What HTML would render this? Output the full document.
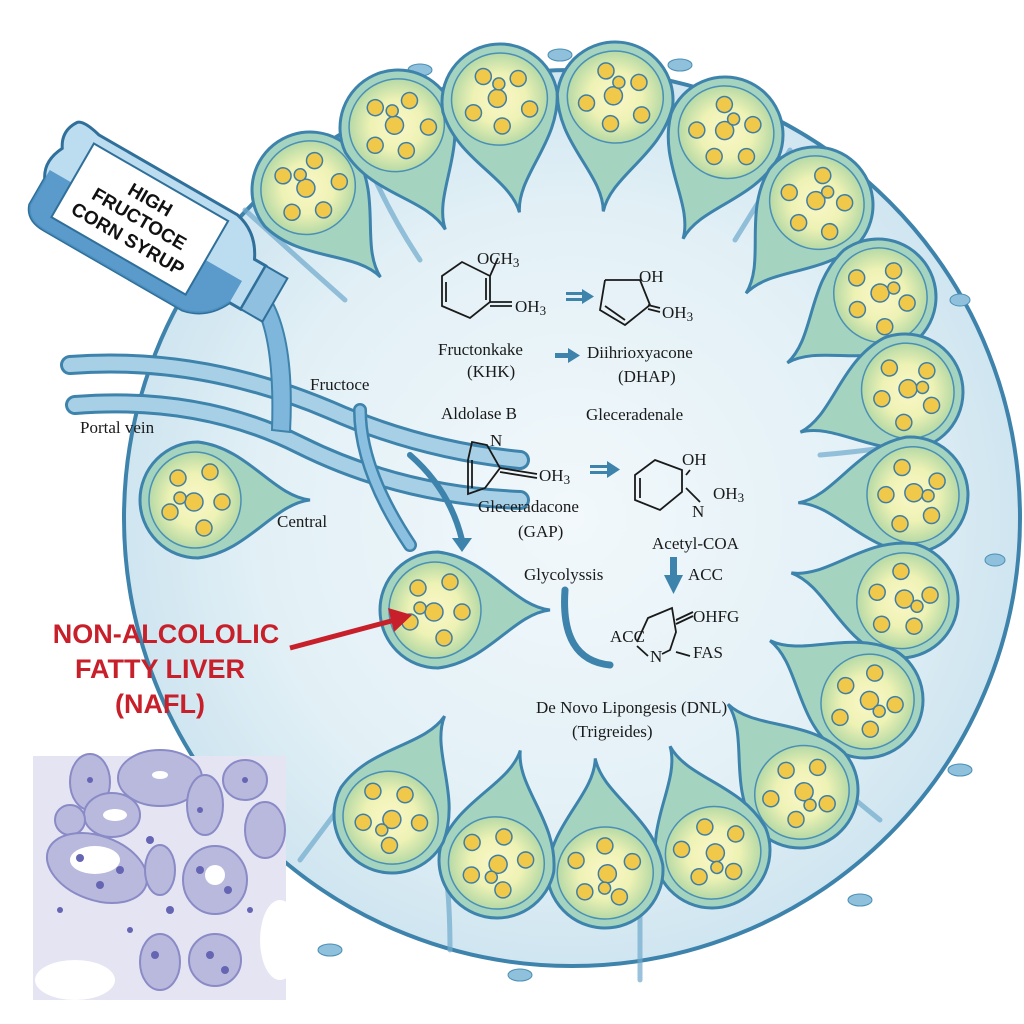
<!DOCTYPE html>
<html><head><meta charset="utf-8"><style>
html,body{margin:0;padding:0;background:#fff;width:1024px;height:1024px;overflow:hidden}
svg{display:block}
.s{font-family:"Liberation Serif",serif;fill:#1a1a1a}
</style></head><body>
<svg width="1024" height="1024" viewBox="0 0 1024 1024" xmlns="http://www.w3.org/2000/svg">
<defs>
<radialGradient id="bg" cx="0.5" cy="0.5" r="0.5">
<stop offset="0" stop-color="#f2f8fb"/><stop offset="0.7" stop-color="#e2f0f6"/><stop offset="1" stop-color="#cfe5f0"/>
</radialGradient>
<radialGradient id="cy" cx="0.5" cy="0.5" r="0.5">
<stop offset="0" stop-color="#fbf7c8"/><stop offset="0.55" stop-color="#eef2b4"/><stop offset="1" stop-color="#b6d9a6"/>
</radialGradient>
<g id="cell">
<path d="M112,0 C75,4 50,52 0,58 A58,58 0 1 1 0,-58 C50,-52 75,-4 112,0 Z" fill="#a4d4c0" stroke="#3d83ab" stroke-width="3"/>
<ellipse cx="-3" cy="0" rx="46" ry="48" fill="url(#cy)" stroke="#4a8fb5" stroke-width="1.5"/>
<g fill="#f1c94a" stroke="#3f7fa6" stroke-width="1.5">
<circle cx="-20" cy="-22" r="8"/><circle cx="12" cy="-28" r="8"/><circle cx="24" cy="2" r="8"/>
<circle cx="-4" cy="2" r="9"/><circle cx="-28" cy="12" r="8"/><circle cx="6" cy="28" r="8"/><circle cx="-18" cy="-2" r="6"/>
</g>
</g>
</defs>
<rect width="1024" height="1024" fill="#fff"/>
<circle cx="572" cy="518" r="448" fill="url(#bg)" stroke="#3d83ab" stroke-width="4"/>
<g fill="#8fc0dc" stroke="#4a8fb5" stroke-width="1">
<ellipse cx="420" cy="70" rx="12" ry="6"/><ellipse cx="560" cy="55" rx="12" ry="6"/><ellipse cx="680" cy="65" rx="12" ry="6"/>
<ellipse cx="960" cy="300" rx="10" ry="6"/><ellipse cx="995" cy="560" rx="10" ry="6"/><ellipse cx="960" cy="770" rx="12" ry="6"/>
<ellipse cx="860" cy="900" rx="12" ry="6"/><ellipse cx="520" cy="975" rx="12" ry="6"/><ellipse cx="330" cy="950" rx="12" ry="6"/>
</g>
<g stroke="#6fa9cc" stroke-width="5" fill="none" stroke-linecap="round" opacity="0.7">
<path d="M245,210 Q300,260 345,300"/><path d="M355,130 Q380,200 420,260"/><path d="M930,440 Q880,450 820,455"/>
<path d="M940,640 Q880,650 830,650"/><path d="M880,820 Q830,780 790,740"/><path d="M640,980 Q640,900 640,850"/>
<path d="M450,950 Q450,880 440,840"/><path d="M300,860 Q330,820 360,780"/><path d="M790,150 Q760,200 735,240"/>
</g>
<use href="#cell" transform="translate(310,190) rotate(51)"/>
<use href="#cell" transform="translate(398,128) rotate(65)"/>
<use href="#cell" transform="translate(500,102) rotate(80)"/>
<use href="#cell" transform="translate(615,100) rotate(96)"/>
<use href="#cell" transform="translate(725,135) rotate(112)"/>
<use href="#cell" transform="translate(815,205) rotate(128)"/>
<use href="#cell" transform="translate(878,297) rotate(144)"/>
<use href="#cell" transform="translate(905,392) rotate(159)"/>
<use href="#cell" transform="translate(910,495) rotate(176)"/>
<use href="#cell" transform="translate(900,600) rotate(194)"/>
<use href="#cell" transform="translate(865,700) rotate(212)"/>
<use href="#cell" transform="translate(800,790) rotate(230)"/>
<use href="#cell" transform="translate(712,850) rotate(248)"/>
<use href="#cell" transform="translate(605,870) rotate(265)"/>
<use href="#cell" transform="translate(497,860) rotate(282)"/>
<use href="#cell" transform="translate(392,815) rotate(298)"/>
<use href="#cell" transform="translate(198,500) rotate(0)"/>
<use href="#cell" transform="translate(438,610) rotate(0)"/>
<g fill="none" stroke-linecap="round">
<path d="M70,365 Q200,355 330,410 Q420,450 520,460" stroke="#3d83ab" stroke-width="20"/>
<path d="M70,365 Q200,355 330,410 Q420,450 520,460" stroke="#a7d0e6" stroke-width="14"/>
<path d="M75,405 Q200,395 300,445 Q400,495 520,500" stroke="#3d83ab" stroke-width="20"/>
<path d="M75,405 Q200,395 300,445 Q400,495 520,500" stroke="#a7d0e6" stroke-width="14"/>
<path d="M360,410 Q360,470 410,545" stroke="#3d83ab" stroke-width="14"/>
<path d="M360,410 Q360,470 410,545" stroke="#8cc0e0" stroke-width="9"/>
<path d="M410,455 Q450,490 462,540" stroke="#3d83ab" stroke-width="6"/>
<path d="M565,590 Q560,660 610,665" stroke="#3d83ab" stroke-width="7"/>
</g>
<polygon points="452,538 472,538 462,552" fill="#3d83ab"/>
<path d="M255,305 Q275,340 272,430 L290,432 Q295,340 270,298 Z" fill="#7fb6dc" stroke="#3d83ab" stroke-width="2"/>
<g transform="translate(145,225) rotate(30)">
<path d="M-110,-55 Q-120,-40 -110,-25 Q-120,-5 -110,10 L-110,40 Q-105,55 -85,55 L75,55 Q100,50 112,25 L125,25 L125,-25 L112,-25 Q100,-50 75,-55 L-85,-55 Q-105,-60 -110,-55 Z" fill="#bcdcf0" stroke="#2f6f99" stroke-width="3"/>
<path d="M-110,10 L-110,40 Q-105,55 -85,55 L75,55 Q100,50 112,25 L112,0 L-110,0 Z" fill="#4f93c6" opacity="0.9"/>
<rect x="125" y="-25" width="25" height="50" fill="#8fc0e0" stroke="#2f6f99" stroke-width="2"/>
<rect x="-85" y="-45" width="155" height="85" fill="#fff" stroke="#2f6f99" stroke-width="2"/>
<text x="-8" y="-18" text-anchor="middle" font-family="Liberation Sans,sans-serif" font-weight="bold" font-size="19" fill="#111">HIGH</text>
<text x="-8" y="4" text-anchor="middle" font-family="Liberation Sans,sans-serif" font-weight="bold" font-size="19" fill="#111">FRUCTOCE</text>
<text x="-8" y="27" text-anchor="middle" font-family="Liberation Sans,sans-serif" font-weight="bold" font-size="19" fill="#111">CORN SYRUP</text>
</g>
<g fill="none" stroke="#1a1a1a" stroke-width="1.8">
<polygon points="462,262 490,276 490,302 470,318 442,306 442,276"/>
<line x1="486" y1="278" x2="486" y2="300"/><line x1="446" y1="282" x2="446" y2="302"/>
<line x1="490" y1="276" x2="498" y2="258"/><line x1="490" y1="302" x2="512" y2="302"/><line x1="490" y1="306" x2="512" y2="306"/>
<polyline points="605,280 640,280 650,305 625,325 600,310 605,280"/><line x1="605" y1="306" x2="625" y2="320"/>
<line x1="648" y1="305" x2="660" y2="308"/><line x1="648" y1="309" x2="660" y2="312"/>
<polygon points="472,442 487,445 500,468 485,488 468,494 468,460"/><line x1="472" y1="460" x2="472" y2="488"/>
<line x1="500" y1="468" x2="537" y2="474"/><line x1="500" y1="472" x2="537" y2="478"/>
<polygon points="655,460 682,470 682,492 660,510 635,500 635,475"/><line x1="640" y1="478" x2="640" y2="498"/>
<line x1="686" y1="488" x2="700" y2="502"/><line x1="686" y1="475" x2="690" y2="470"/>
<polyline points="637,642 648,618 672,608 676,632 670,650 662,654"/>
<line x1="676" y1="620" x2="693" y2="612"/><line x1="676" y1="624" x2="693" y2="616"/>
<line x1="676" y1="652" x2="690" y2="656"/><line x1="637" y1="646" x2="648" y2="656"/>
</g>
<g fill="#3d83ab">
<rect x="566" y="292" width="16" height="3"/><rect x="566" y="298" width="16" height="3"/><polygon points="582,289 594,296.5 582,304"/>
<rect x="555" y="353" width="14" height="5"/><polygon points="568,348 580,355.5 568,363"/>
<rect x="590" y="465" width="18" height="3"/><rect x="590" y="471" width="18" height="3"/><polygon points="607,461 620,469.5 607,478"/>
<rect x="670" y="557" width="7" height="20"/><polygon points="664,575 683,575 673.5,594"/>
</g>
<g class="s" font-size="17">
<text x="477" y="264">OCH<tspan font-size="13" dy="3">3</tspan></text>
<text x="515" y="312">OH<tspan font-size="13" dy="3">3</tspan></text>
<text x="639" y="282">OH</text>
<text x="662" y="318">OH<tspan font-size="13" dy="3">3</tspan></text>
<text x="438" y="355">Fructonkake</text>
<text x="467" y="377">(KHK)</text>
<text x="587" y="358">Diihrioxyacone</text>
<text x="618" y="382">(DHAP)</text>
<text x="441" y="419">Aldolase B</text>
<text x="586" y="420">Gleceradenale</text>
<text x="490" y="446">N</text>
<text x="539" y="481">OH<tspan font-size="13" dy="3">3</tspan></text>
<text x="682" y="465">OH</text>
<text x="713" y="499">OH<tspan font-size="13" dy="3">3</tspan></text>
<text x="692" y="517">N</text>
<text x="478" y="512">Gleceradacone</text>
<text x="518" y="537">(GAP)</text>
<text x="652" y="549">Acetyl-COA</text>
<text x="688" y="580">ACC</text>
<text x="524" y="580">Glycolyssis</text>
<text x="693" y="622">OHFG</text>
<text x="610" y="642">ACC</text>
<text x="650" y="662">N</text>
<text x="693" y="658">FAS</text>
<text x="536" y="713">De Novo Lipongesis (DNL)</text>
<text x="572" y="737">(Trigreides)</text>
<text x="310" y="390">Fructoce</text>
<text x="80" y="433">Portal vein</text>
<text x="277" y="527">Central</text>
</g>
<g font-family="Liberation Sans,sans-serif" font-weight="bold" font-size="27" fill="#c8202a" text-anchor="middle">
<text x="166" y="643">NON-ALCOLOLIC</text>
<text x="160" y="678">FATTY LIVER</text>
<text x="160" y="713">(NAFL)</text>
</g>
<line x1="290" y1="648" x2="395" y2="620" stroke="#c8202a" stroke-width="5"/>
<polygon points="412,615 388,608 394,632" fill="#c8202a"/>
<g>
<rect x="33" y="756" width="253" height="244" fill="#e4e4f2"/>
<g fill="#b9b9de" stroke="#8a8ac6" stroke-width="2">
<ellipse cx="90" cy="782" rx="20" ry="28"/><ellipse cx="160" cy="778" rx="42" ry="28"/><ellipse cx="205" cy="805" rx="18" ry="30"/>
<ellipse cx="245" cy="780" rx="22" ry="20"/><ellipse cx="112" cy="815" rx="28" ry="22"/><ellipse cx="70" cy="820" rx="15" ry="15"/>
<ellipse cx="97" cy="868" rx="52" ry="32" transform="rotate(20 97 868)"/><ellipse cx="215" cy="880" rx="32" ry="34"/>
<ellipse cx="160" cy="870" rx="15" ry="25"/><ellipse cx="160" cy="962" rx="20" ry="28"/><ellipse cx="215" cy="960" rx="26" ry="26"/>
<ellipse cx="265" cy="830" rx="20" ry="28"/>
</g>
<g fill="#fff">
<ellipse cx="95" cy="860" rx="25" ry="14"/><ellipse cx="215" cy="875" rx="10" ry="10"/><ellipse cx="115" cy="815" rx="12" ry="6"/>
<ellipse cx="160" cy="775" rx="8" ry="4"/><ellipse cx="280" cy="940" rx="20" ry="40"/><ellipse cx="75" cy="980" rx="40" ry="20"/>
</g>
<g fill="#6565b4">
<circle cx="80" cy="858" r="4"/><circle cx="120" cy="870" r="4"/><circle cx="100" cy="885" r="4"/><circle cx="200" cy="870" r="4"/>
<circle cx="228" cy="890" r="4"/><circle cx="150" cy="840" r="4"/><circle cx="170" cy="910" r="4"/><circle cx="60" cy="910" r="3"/>
<circle cx="210" cy="955" r="4"/><circle cx="225" cy="970" r="4"/><circle cx="155" cy="955" r="4"/><circle cx="90" cy="780" r="3"/>
<circle cx="245" cy="780" r="3"/><circle cx="200" cy="810" r="3"/><circle cx="130" cy="930" r="3"/><circle cx="250" cy="910" r="3"/>
</g>
</g>
</svg>
</body></html>
